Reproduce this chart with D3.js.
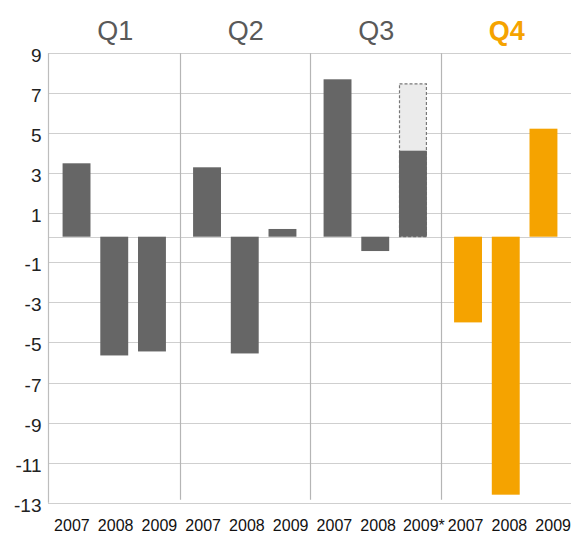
<!DOCTYPE html>
<html>
<head>
<meta charset="utf-8">
<script src="https://cdn.jsdelivr.net/npm/d3@7"></script>
<style>
  body { margin: 0; background: #fff; }
  svg { display: block; }
</style>
</head>
<body>
<div id="vis"></div>
<script>
// Chart data
const quarters = ["Q1", "Q2", "Q3", "Q4"]
const years = ["2007", "2008", "2009"]
const q1Values = [3.5, -5.65, -5.45]
const q2Values = [3.3, -5.55, 0.33]
const q3Values = [7.7, -0.56, 4.13]
const q4Values = [-4.0, -12.6, 5.23]
const q3Estimate2009 = 7.47   // dashed box, 2009*
const yearLabels = ["2007", "2008", "2009", "2007", "2008", "2009",
                    "2007", "2008", "2009*", "2007", "2008", "2009"]
const yTicks = [9, 7, 5, 3, 1, -1, -3, -5, -7, -9, -11, -13]

const width = 571
const height = 534
const grey = "#666666"
const orange = "#f5a300"

let svg = d3.select("#vis")
    .append("svg")
    .attr("width", width)
    .attr("height", height)

// the axis in the picture has a little extra room around zero, so a piecewise scale
const y = d3.scaleLinear()
    .domain([-13, -1, 0, 1, 9])
    .range([502.7, 262.3, 236.7, 213.3, 53.3])

const xQuarter = d3.scaleBand()
    .domain(quarters)
    .range([49, 571])

const xYear = d3.scaleBand()
    .domain(years)
    .range([0, xQuarter.bandwidth()])
    .paddingInner(0.26)
    .paddingOuter(0.36)

const xLabel = d3.scaleBand()
    .domain(d3.range(yearLabels.length))
    .range([50, 575])

// gridlines
svg.append("g")
    .selectAll("line")
    .data(yTicks.concat([0]))
    .enter()
    .append("line")
    .attr("x1", 48)
    .attr("x2", width)
    .attr("y1", d => Math.round(y(d)) + 0.5)
    .attr("y2", d => Math.round(y(d)) + 0.5)
    .style("stroke", "#cfcfcf")
    .style("stroke-width", 1.2)

// left axis line + quarter separators
svg.append("line")
    .attr("x1", 48.5).attr("x2", 48.5)
    .attr("y1", y(9)).attr("y2", y(-13))
    .style("stroke", "#bdbdbd")
    .style("stroke-width", 1.2)

svg.append("g")
    .selectAll("line")
    .data(quarters.slice(1))
    .enter()
    .append("line")
    .attr("x1", d => Math.round(xQuarter(d)) + 0.5)
    .attr("x2", d => Math.round(xQuarter(d)) + 0.5)
    .attr("y1", y(9))
    .attr("y2", y(-13) - 3)
    .style("stroke", "#b5b5b5")
    .style("stroke-width", 1.2)

// y labels
svg.append("g")
    .selectAll("text")
    .data(yTicks)
    .enter()
    .append("text")
    .attr("x", 41.5)
    .attr("y", d => y(d) + 9)
    .attr("text-anchor", "end")
    .style("font-family", "'Liberation Sans', Arial, sans-serif")
    .style("font-size", "19px")
    .style("fill", "#222")
    .text(d => d)

// quarter titles
svg.append("g")
    .selectAll("text")
    .data(quarters)
    .enter()
    .append("text")
    .attr("x", d => xQuarter(d) + xQuarter.bandwidth() / 2 + 1)
    .attr("y", 40)
    .attr("text-anchor", "middle")
    .style("font-family", "'Liberation Sans', Arial, sans-serif")
    .style("font-size", "27px")
    .style("font-weight", d => d === "Q4" ? "bold" : "normal")
    .style("fill", d => d === "Q4" ? orange : "#595959")
    .text(d => d)

// bars
const series = [q1Values, q2Values, q3Values, q4Values]
let barData = []
quarters.forEach((q, qi) => {
    years.forEach((yr, yi) => {
        barData.push({quarter: q, year: yr, value: series[qi][yi]})
    })
})

// dashed estimate behind the Q3 2009 bar
svg.append("rect")
    .attr("x", xQuarter("Q3") + xYear("2009") + 0.5)
    .attr("y", y(q3Estimate2009))
    .attr("width", xYear.bandwidth() - 1)
    .attr("height", y(0) - y(q3Estimate2009))
    .style("fill", "#ebebeb")
    .style("stroke", "#777")
    .style("stroke-width", 1.2)
    .style("stroke-dasharray", "3,2")

svg.append("g")
    .selectAll("rect")
    .data(barData)
    .enter()
    .append("rect")
    .attr("x", d => xQuarter(d.quarter) + xYear(d.year))
    .attr("y", d => y(Math.max(0, d.value)))
    .attr("width", xYear.bandwidth())
    .attr("height", d => Math.abs(y(d.value) - y(0)))
    .style("fill", d => d.quarter === "Q4" ? orange : grey)

// year labels under the plot
svg.append("g")
    .selectAll("text")
    .data(yearLabels)
    .enter()
    .append("text")
    .attr("x", (d, i) => xLabel(i) + xLabel.bandwidth() / 2 + (d.endsWith("*") ? 2 : 0))
    .attr("y", 531)
    .attr("text-anchor", "middle")
    .style("font-family", "'Liberation Sans Narrow', 'Arial Narrow', sans-serif")
    .style("font-stretch", "condensed")
    .style("font-size", "16px")
    .style("fill", "#111")
    .text(d => d)
</script>
</body>
</html>
